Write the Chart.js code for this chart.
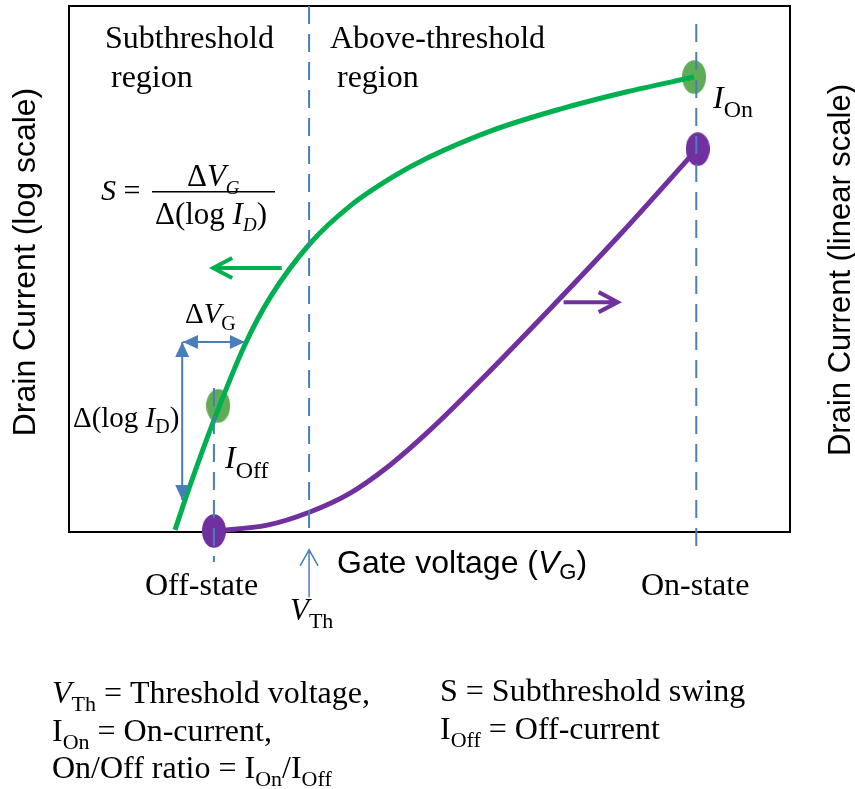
<!DOCTYPE html>
<html>
<head>
<meta charset="utf-8">
<script src="https://cdn.jsdelivr.net/npm/chart.js@4/dist/chart.umd.min.js"></script>
<style>
  body { margin: 0; background: #fff; }
</style>
</head>
<body>
<canvas id="myChart" width="855" height="789"></canvas>
<script>
'use strict';

// gate voltage / drain current, arbitrary units 0..10
let logCurveV = [1.47, 1.68, 2.00, 2.44, 2.79, 3.34, 3.90, 4.49, 4.97, 5.88, 6.81, 7.74, 8.67];
let logCurveI = [0.04, 0.89, 2.09, 3.56, 4.46, 5.48, 6.20, 6.75, 7.11, 7.64, 8.04, 8.37, 8.65];
let linCurveV = [2.01, 2.75, 3.34, 3.90, 4.45, 5.01, 5.70, 6.67, 7.64, 8.71];
let linCurveI = [0.02, 0.13, 0.38, 0.74, 1.27, 1.94, 2.87, 4.24, 5.65, 7.28];

let offState = 2.01;
let thresholdV = 3.33;
let onState = 8.70;

let logDotsV = [2.07, 8.67];
let logDotsI = [2.40, 8.65];
let linDotsV = [2.01, 8.72];
let linDotsI = [0.02, 7.28];

const green = '#00b050';
const greenDot = '#5fac56';
const purple = '#7030a0';
const blue = '#4a7ebb';
const serif = "'Liberation Serif', 'Times New Roman', serif";
const sans = "'Liberation Sans', Arial, sans-serif";

function pairs(xs, ys) {
  return xs.map((x, i) => ({ x: x, y: ys[i] }));
}

function ellipse(color) {
  let c = document.createElement('canvas');
  c.width = 24;
  c.height = 34;
  let g = c.getContext('2d');
  g.fillStyle = color;
  g.beginPath();
  g.ellipse(12, 17, 12, 16.8, 0, 0, Math.PI * 2);
  g.fill();
  return c;
}

function vline(x, y0, y1) {
  return {
    type: 'line',
    data: [{ x: x, y: y0 }, { x: x, y: y1 }],
    borderColor: blue,
    borderWidth: 2,
    borderDash: [18, 10],
    pointRadius: 0,
    clip: false
  };
}

// draws text pieces one after another (for subscripts)
function runs(ctx, x, y, parts) {
  for (let p of parts) {
    ctx.font = p[1];
    ctx.fillText(p[0], x, y + (p[2] || 0));
    x += ctx.measureText(p[0]).width;
  }
}

function blockArrow(ctx, x0, y0, x1, y1) {
  // filled head at (x1, y1)
  let a = Math.atan2(y1 - y0, x1 - x0);
  let L = 15, W = 7;
  ctx.beginPath();
  ctx.moveTo(x1, y1);
  ctx.lineTo(x1 - L * Math.cos(a) + W * Math.sin(a), y1 - L * Math.sin(a) - W * Math.cos(a));
  ctx.lineTo(x1 - L * Math.cos(a) - W * Math.sin(a), y1 - L * Math.sin(a) + W * Math.cos(a));
  ctx.closePath();
  ctx.fill();
}

function openArrow(ctx, x0, y0, x1, y1, L, W) {
  let a = Math.atan2(y1 - y0, x1 - x0);
  ctx.beginPath();
  ctx.moveTo(x0, y0);
  ctx.lineTo(x1, y1);
  ctx.moveTo(x1 - L * Math.cos(a) + W * Math.sin(a), y1 - L * Math.sin(a) - W * Math.cos(a));
  ctx.lineTo(x1, y1);
  ctx.lineTo(x1 - L * Math.cos(a) - W * Math.sin(a), y1 - L * Math.sin(a) + W * Math.cos(a));
  ctx.stroke();
}

const frame = {
  id: 'frame',
  beforeDatasetsDraw(chart) {
    let ctx = chart.ctx;
    let a = chart.chartArea;
    ctx.save();
    ctx.strokeStyle = '#000';
    ctx.lineWidth = 2;
    ctx.strokeRect(a.left, a.top, a.right - a.left, a.bottom - a.top);
    ctx.restore();
  },
  afterDraw(chart) {
    let ctx = chart.ctx;
    let sx = chart.scales.x;
    let sy = chart.scales.y;
    let X = v => sx.getPixelForValue(v);
    let Y = v => sy.getPixelForValue(v);
    ctx.save();
    ctx.fillStyle = '#000';
    ctx.textBaseline = 'alphabetic';
    ctx.textAlign = 'left';

    // region labels
    ctx.font = '32px ' + serif;
    ctx.fillText('Subthreshold', 105, 48);
    ctx.fillText('region', 111, 87);
    ctx.fillText('Above-threshold', 330, 48);
    ctx.fillText('region', 337, 87);

    // S = dVG / d(log ID)
    runs(ctx, 101, 200, [['S', 'italic 30px ' + serif], [' =', '30px ' + serif]]);
    runs(ctx, 187, 186, [['\u0394', '31px ' + serif], ['V', 'italic 31px ' + serif], ['G', 'italic 19px ' + serif, 8]]);
    ctx.fillRect(152, 191, 123, 1.5);
    runs(ctx, 155, 224, [['\u0394(log ', '31px ' + serif], ['I', 'italic 31px ' + serif], ['D', 'italic 19px ' + serif, 7], [')', '31px ' + serif]]);

    // delta labels
    runs(ctx, 185, 323, [['\u0394', '29px ' + serif], ['V', 'italic 29px ' + serif], ['G', '20px ' + serif, 7]]);
    runs(ctx, 73, 427, [['\u0394(log ', '29px ' + serif], ['I', 'italic 29px ' + serif], ['D', '20px ' + serif, 6], [')', '29px ' + serif]]);

    // I_Off, I_On
    runs(ctx, 225, 468, [['I', 'italic 32px ' + serif], ['Off', '24px ' + serif, 10]]);
    runs(ctx, 713, 108, [['I', 'italic 32px ' + serif], ['On', '24px ' + serif, 9]]);

    // state labels
    ctx.font = '32px ' + serif;
    ctx.fillText('Off-state', 145, 595);
    ctx.fillText('On-state', 641, 595);
    runs(ctx, 290, 620, [['V', 'italic 31px ' + serif], ['Th', '22px ' + serif, 8]]);

    // axis titles
    runs(ctx, 337, 573, [['Gate voltage (', '32px ' + sans], ['V', 'italic 32px ' + sans], ['G', '22px ' + sans, 6], [')', '32px ' + sans]]);
    ctx.textAlign = 'center';
    ctx.textBaseline = 'middle';
    ctx.save();
    ctx.font = '32px ' + sans;
    ctx.translate(26, 262);
    ctx.rotate(-Math.PI / 2);
    ctx.fillText('Drain Current (log scale)', 0, 0);
    ctx.restore();
    ctx.save();
    ctx.font = '31px ' + sans;
    ctx.translate(841, 270);
    ctx.rotate(-Math.PI / 2);
    ctx.fillText('Drain Current (linear scale)', 0, 0);
    ctx.restore();
    ctx.textAlign = 'left';
    ctx.textBaseline = 'alphabetic';

    // notes below
    let f = '32px ' + serif;
    let fs = '22px ' + serif;
    runs(ctx, 52, 703, [['V', 'italic ' + f], ['Th', fs, 8], [' = Threshold voltage,', f]]);
    runs(ctx, 52, 741, [['I', f], ['On', fs, 8], [' = On-current,', f]]);
    runs(ctx, 52, 778, [['On/Off ratio = I', f], ['On', fs, 8], ['/I', f], ['Off', fs, 8]]);
    runs(ctx, 440, 701, [['S = Subthreshold swing', f]]);
    runs(ctx, 440, 739, [['I', f], ['Off', fs, 8], [' = Off-current', f]]);

    // blue dimension arrows
    ctx.strokeStyle = blue;
    ctx.fillStyle = blue;
    ctx.lineWidth = 2;
    ctx.beginPath();
    ctx.moveTo(X(1.58), Y(3.61));
    ctx.lineTo(X(2.44), Y(3.61));
    ctx.moveTo(X(1.57), Y(3.61));
    ctx.lineTo(X(1.57), Y(0.61));
    ctx.stroke();
    blockArrow(ctx, X(2.44), Y(3.61), X(1.58), Y(3.61));
    blockArrow(ctx, X(1.58), Y(3.61), X(2.44), Y(3.61));
    blockArrow(ctx, X(1.57), Y(0.61), X(1.57), Y(3.61));
    blockArrow(ctx, X(1.57), Y(3.61), X(1.57), Y(0.61));

    // V_Th pointer
    ctx.lineWidth = 1.5;
    openArrow(ctx, X(thresholdV), Y(-1.24), X(thresholdV), Y(-0.34), 16, 9);

    // curve arrows
    ctx.lineWidth = 4;
    ctx.strokeStyle = green;
    openArrow(ctx, X(2.95), Y(5.02), X(2.00), Y(5.02), 19, 10);
    ctx.strokeStyle = purple;
    openArrow(ctx, X(6.86), Y(4.37), X(7.61), Y(4.37), 19, 10);
    ctx.restore();
  }
};

const config = {
  type: 'line',
  data: {
    datasets: [
      vline(thresholdV, 10, 0),
      vline(offState, 2.74, -0.57),
      vline(onState, 9.66, -0.30),
      {
        data: pairs(logCurveV, logCurveI),
        borderColor: green,
        borderWidth: 5,
        pointRadius: 0,
        cubicInterpolationMode: 'monotone',
        clip: false
      },
      {
        data: pairs(linCurveV, linCurveI),
        borderColor: purple,
        borderWidth: 5,
        pointRadius: 0,
        cubicInterpolationMode: 'monotone',
        clip: false
      },
      {
        type: 'scatter',
        data: pairs(logDotsV, logDotsI),
        pointStyle: ellipse(greenDot),
        pointRadius: 12,
        clip: false
      },
      {
        type: 'scatter',
        data: pairs(linDotsV, linDotsI),
        pointStyle: ellipse(purple),
        pointRadius: 12,
        clip: false
      }
    ]
  },
  options: {
    responsive: false,
    animation: false,
    events: [],
    layout: { autoPadding: false, padding: { left: 69, top: 6, right: 65, bottom: 257 } },
    plugins: {
      legend: { display: false },
      tooltip: { enabled: false }
    },
    scales: {
      x: { type: 'linear', min: 0, max: 10, display: false },
      y: { type: 'linear', min: 0, max: 10, display: false }
    }
  },
  plugins: [frame]
};

let myChart = new Chart(document.getElementById('myChart'), config);
</script>
</body>
</html>
